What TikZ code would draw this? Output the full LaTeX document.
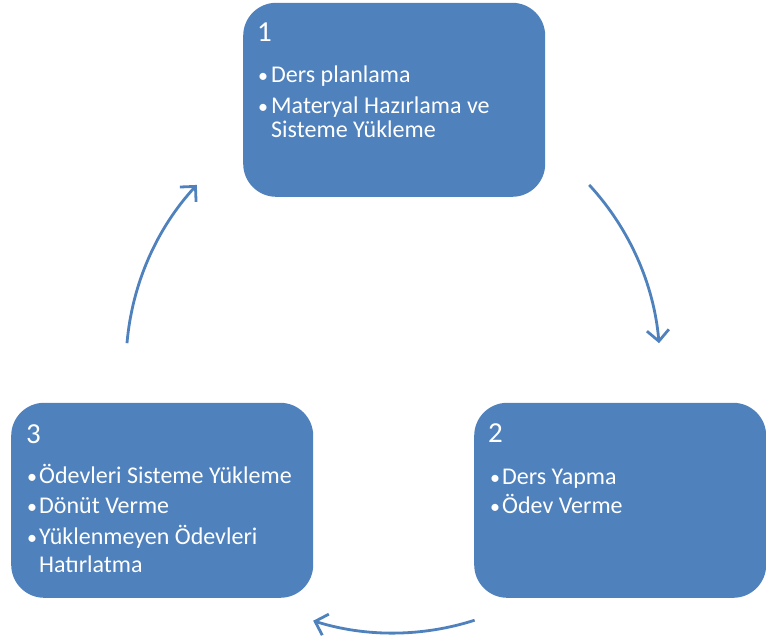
\documentclass[tikz,border=0pt]{standalone}
\usepackage{fontspec}
\setmainfont{Carlito}
\usetikzlibrary{arrows.meta,calc}
\definecolor{boxblue}{HTML}{4F81BD}
\begin{document}
\begin{tikzpicture}[x=1pt,y=1pt,
  box/.style={fill=boxblue, draw=none, rounded corners=33pt, anchor=south west, inner sep=0pt},
  txt/.style={anchor=base west, inner sep=0pt, text=white, font=\fontsize{24}{28}\selectfont},
  bul/.style={anchor=base west, inner sep=0pt, text=white, font=\fontsize{20}{24}\selectfont},
  num/.style={anchor=base west, inner sep=0pt, text=white, font=\fontsize{29}{33}\selectfont},
  arr/.style={draw=boxblue, line width=2.8pt, -{Straight Barb[length=11pt,width=22pt,line width=2.8pt]}}]
\useasboundingbox (0,0) rectangle (766,641);
% boxes
\node[box, minimum width=302pt, minimum height=194pt] (b1) at (243,444) {};
\node[box, minimum width=292pt, minimum height=195pt] (b2) at (474,43) {};
\node[box, minimum width=302pt, minimum height=195pt] (b3) at (11,43) {};
% box 1 text
\node[num] (n1) at (257,599) {1};
\node[bul] (p1a) at (258,558) {•};
\node[txt] (t1a) at (271,558) {Ders planlama};
\node[bul] (p1b) at (258,527) {•};
\node[txt] (t1b) at (271,527) {Materyal Hazırlama ve};
\node[txt] (t1c) at (271,503) {Sisteme Yükleme};
% box 2 text
\node[num] (n2) at (488,199) {2};
\node[bul] (p2a) at (490,157) {•};
\node[txt] (t2a) at (502,157) {Ders Yapma};
\node[bul] (p2b) at (490,128) {•};
\node[txt] (t2b) at (502,128) {Ödev Verme};
% box 3 text
\node[num] (n3) at (26,198) {3};
\node[bul] (p3a) at (27,158) {•};
\node[txt] (t3a) at (39,158) {Ödevleri Sisteme Yükleme};
\node[bul] (p3b) at (27,128) {•};
\node[txt] (t3b) at (39,128) {Dönüt Verme};
\node[bul] (p3c) at (27,97) {•};
\node[txt] (t3c) at (39,97) {Yüklenmeyen Ödevleri};
\node[txt] (t3d) at (39,69) {Hatırlatma};
% arrows on a circle
\coordinate (c) at (393,275);
\coordinate (a12) at ($(c)+(42.7:267)$);
\coordinate (a23) at ($(c)+(-72.2:267)$);
\coordinate (a31) at ($(c)+(175.1:267)$);
\draw[arr] (a12) arc[start angle=42.7, end angle=4.9, radius=267];
\draw[arr] (a23) arc[start angle=-72.2, end angle=-107.4, radius=267];
\draw[arr] (a31) arc[start angle=175.1, end angle=137.3, radius=267];
\end{tikzpicture}
\end{document}
